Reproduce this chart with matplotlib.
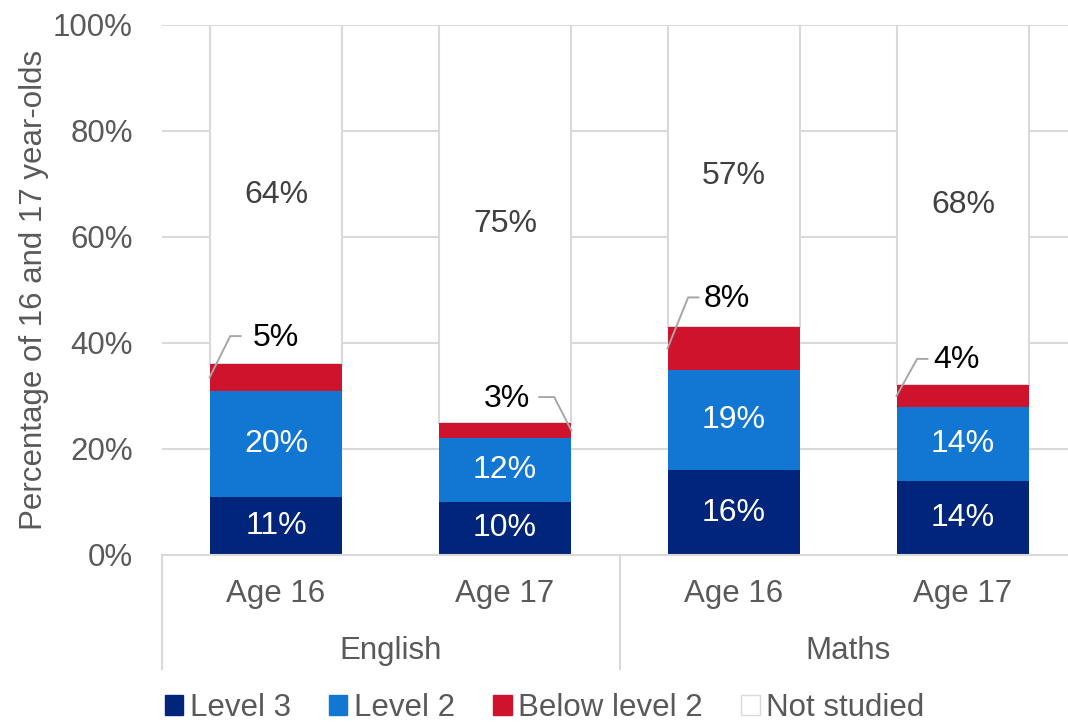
import matplotlib.pyplot as plt
from matplotlib.patches import Patch

plt.rcParams['font.family'] = ['Liberation Sans', 'DejaVu Sans']

# Données
groupes = ["English", "Maths"]
ages = ["Age 16", "Age 17", "Age 16", "Age 17"]
series = ["Level 3", "Level 2", "Below level 2", "Not studied"]
level3 = [11, 10, 16, 14]
level2 = [20, 12, 19, 14]
below2 = [5, 3, 8, 4]
not_studied = [64, 75, 57, 68]

couleurs = ["#00257A", "#1277D2", "#D0132D", "#FFFFFF"]
gris = "#D9D9D9"
texte = "#595959"

fig = plt.figure(figsize=(10.68, 7.22), dpi=100)
ax = fig.add_axes([162 / 1068, 1 - 555 / 722, 1 - 162 / 1068, (555 - 25) / 722])

x = list(range(len(ages)))
w = 0.58
bas = [0] * 4
for vals, col in zip([level3, level2, below2, not_studied], couleurs):
    if col == "#FFFFFF":
        ax.bar(x, vals, w, bottom=bas, color=col, edgecolor=gris, linewidth=1.5, zorder=2)
    else:
        ax.bar(x, vals, w, bottom=bas, color=col, edgecolor="none", zorder=3)
    bas = [b + v for b, v in zip(bas, vals)]

# Étiquettes dans les segments
for i in x:
    ax.text(i, level3[i] / 2, f"{level3[i]}%", ha="center", va="center", color="white", fontsize=23, zorder=4)
    ax.text(i, level3[i] + level2[i] / 2, f"{level2[i]}%", ha="center", va="center", color="white", fontsize=23, zorder=4)
    haut = level3[i] + level2[i] + below2[i]
    ax.text(i, haut + not_studied[i] / 2, f"{not_studied[i]}%", ha="center", va="center", color="#404040", fontsize=23, zorder=4)

# Étiquettes "Below level 2" avec ligne de rappel (côté, décalage x texte, décalage y)
rappel = [("left", 0.0, 5.3), ("right", 0.01, 4.8), ("left", -0.03, 5.6), ("left", -0.03, 5.0)]
for i, (cote, dx, dy) in zip(x, rappel):
    y_mid = level3[i] + level2[i] + below2[i] / 2
    haut = level3[i] + level2[i] + below2[i]
    ty = haut + dy
    if cote == "left":
        x0 = i - w / 2
        xs = [x0, x0 + 0.09, x0 + 0.135]
    else:
        x0 = i + w / 2
        xs = [x0, x0 - 0.075, x0 - 0.14]
    ax.plot(xs, [y_mid, ty, ty], color="#A6A6A6", linewidth=1.4, zorder=5, clip_on=False)
    ax.text(i + dx, ty - 0.3, f"{below2[i]}%", ha="center", va="center", color="black", fontsize=23, zorder=5)

ax.set_ylim(0, 100)
ax.set_xlim(-0.498, 3.459)
ax.set_yticks(range(0, 101, 20))
ax.set_yticklabels([f"{v}%" for v in range(0, 101, 20)], fontsize=22.5, color=texte)
ax.tick_params(axis="y", length=0, pad=21)
ax.set_xticks([])
ax.grid(axis="y", color=gris, linewidth=1.5, zorder=0)
ax.set_axisbelow(True)
for s in ["top", "right", "left"]:
    ax.spines[s].set_visible(False)
ax.spines["bottom"].set_color(gris)
ax.spines["bottom"].set_linewidth(1.5)
ax.spines["bottom"].set_zorder(6)
ax.set_ylabel("Percentage of 16 and 17 year-olds", fontsize=22.5, color=texte, labelpad=3)

# Axe des catégories à deux niveaux
trans = ax.get_xaxis_transform()
for i, a in zip(x, ages):
    ax.text(i, -0.074, a, transform=trans, ha="center", va="center", fontsize=22.5, color=texte)
for g, c in zip(groupes, [0.5, 2.5]):
    ax.text(c, -0.182, g, transform=trans, ha="center", va="center", fontsize=22.5, color=texte)
for sep in [-0.498, 1.502]:
    ax.plot([sep, sep], [0, -0.216], transform=trans, color=gris, linewidth=1.5, clip_on=False)

# Légende
poignees = [Patch(facecolor=c, edgecolor=(gris if c == "#FFFFFF" else c)) for c in couleurs]
fig.legend(poignees, series, loc="center left", bbox_to_anchor=(152 / 1068, 1 - 708 / 722),
           ncol=4, frameon=False, fontsize=22.5, handlelength=0.6, handleheight=0.6,
           handletextpad=0.22, columnspacing=1.2, labelcolor=texte, borderaxespad=0)

fig.savefig("out.png", dpi=100)
